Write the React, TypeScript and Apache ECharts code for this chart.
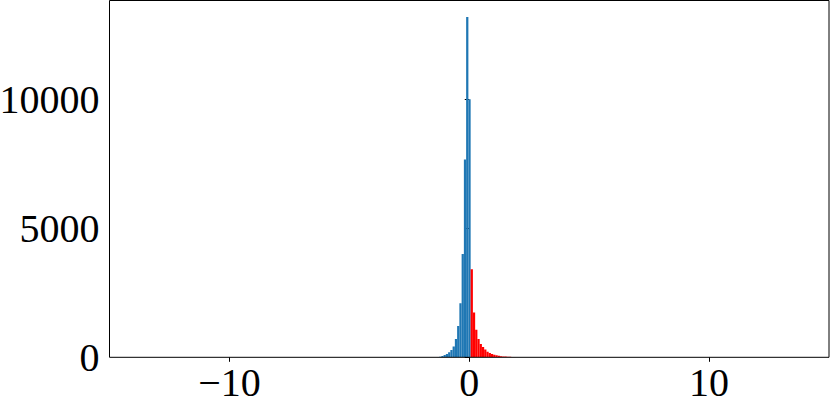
import React, { useEffect, useRef } from "react";
import * as echarts from "echarts";

// Axis ranges and ticks
const xRange = [-15, 15];
const yRange = [0, 13850];
const xTickValues = [-10, 0, 10];
const yTickValues = [0, 5000, 10000];

// Histogram bins (shared width), blue = values below ~0, red = values above
const binWidth = 0.094;
const blueFirstEdge = -1.352;
const blueCounts = [15, 25, 50, 90, 130, 195, 285, 420, 710, 1215, 2100, 4007, 7680, 13213, 10020];
const redFirstEdge = 0.058;
const redCounts = [3414, 1740, 1067, 706, 520, 400, 300, 220, 165, 125, 95, 75, 58, 45, 35, 28, 22, 17, 13, 10];

const BLUE = "#1f77b4";
const RED = "#ff0000";
const FONT = "Liberation Serif";

function toBins(firstEdge: number, counts: number[]) {
  return counts.map((c, i) => [firstEdge + i * binWidth, firstEdge + (i + 1) * binWidth, c]);
}

function rectRenderer(color: string) {
  return (params: any, api: any) => {
    const x0 = api.value(0);
    const x1 = api.value(1);
    const y = api.value(2);
    const p0 = api.coord([x0, y]);
    const p1 = api.coord([x1, 0]);
    return {
      type: "rect",
      shape: { x: p0[0], y: p0[1], width: p1[0] - p0[0], height: p1[1] - p0[1] },
      style: { fill: color },
    };
  };
}

const fmt = (v: number) => (v < 0 ? "\u2212" + Math.abs(v) : String(v));

export default function App() {
  const ref = useRef<HTMLDivElement>(null);
  useEffect(() => {
    if (!ref.current) return;
    const chart = echarts.init(ref.current, undefined, { renderer: "svg" });
    chart.setOption({
      animation: false,
      backgroundColor: "#ffffff",
      grid: {
        left: 109.5,
        right: 1,
        top: 0.5,
        bottom: 48.7,
        containLabel: false,
        outerBoundsMode: "none",
        show: true,
        borderColor: "#000000",
        borderWidth: 1,
        backgroundColor: "transparent",
        z: 10,
      },
      xAxis: {
        type: "value",
        min: xRange[0],
        max: xRange[1],
        axisLine: { show: false },
        splitLine: { show: false },
        axisTick: { show: true, inside: false, length: 4.5, customValues: xTickValues, lineStyle: { color: "#000", width: 1 } },
        axisLabel: {
          customValues: xTickValues,
          formatter: fmt,
          fontFamily: FONT,
          fontSize: 40,
          lineHeight: 34,
          color: "#000",
          margin: 8.5,
        },
      },
      yAxis: {
        type: "value",
        min: yRange[0],
        max: yRange[1],
        axisLine: { show: false },
        splitLine: { show: false },
        axisTick: { show: true, inside: false, length: 4.5, customValues: yTickValues, lineStyle: { color: "#000", width: 1 } },
        axisLabel: {
          customValues: yTickValues,
          formatter: fmt,
          fontFamily: FONT,
          fontSize: 40,
          color: "#000",
          margin: 10,
        },
      },
      series: [
        {
          type: "custom",
          renderItem: rectRenderer(BLUE),
          data: toBins(blueFirstEdge, blueCounts),
          encode: { x: [0, 1], y: 2 },
          clip: true,
        },
        {
          type: "custom",
          renderItem: rectRenderer(RED),
          data: toBins(redFirstEdge, redCounts),
          encode: { x: [0, 1], y: 2 },
          clip: true,
        },
      ],
    });
    return () => chart.dispose();
  }, []);
  return <div ref={ref} style={{ position: "absolute", left: 0, top: 0, width: 830, height: 406 }} />;
}
